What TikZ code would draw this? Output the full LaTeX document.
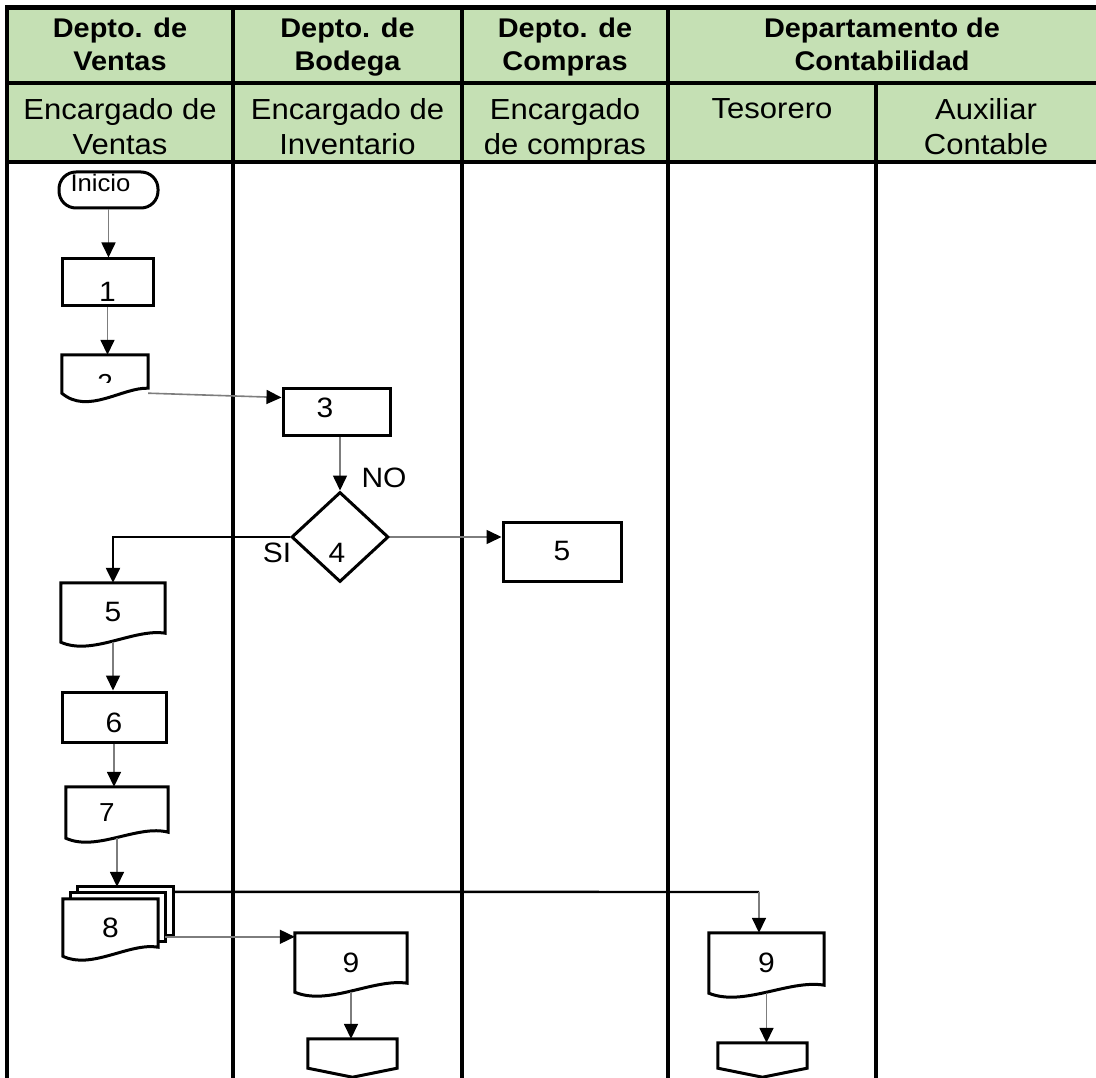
\documentclass[tikz,border=0pt]{standalone}
\usepackage{fontspec}
\setmainfont{Liberation Sans}[FakeStretch=1.07]
\usetikzlibrary{arrows.meta,calc,shapes.geometric}

\definecolor{hdrgreen}{RGB}{197,224,180}
\definecolor{flowgray}{RGB}{125,125,125}

\pgfdeclarelayer{table}
\pgfdeclarelayer{outline}
\pgfsetlayers{table,outline,main}

% document symbol: straight top and sides, wavy bottom edge
% #1 node, #2 rise of the right end, #3 dip amplitude, #4 rise amplitude
\newcommand\docoutline[4]{%
  \draw[shapeline] (#1.south west) -- (#1.north west) -- (#1.north east)
    -- ([yshift=#2pt]#1.south east)
    .. controls ($(#1.south west)!0.7!(#1.south east)+(0pt,#4pt)$)
       and ($(#1.south west)!0.3!(#1.south east)+(0pt,-#3pt)$) .. (#1.south west)
    -- cycle;}
% off-page connector: box with a pointed bottom
\newcommand\offpage[2]{%
  \draw[shapeline] (#1.south west) -- (#1.north west) -- (#1.north east)
    -- (#1.south east) -- ([yshift=-#2pt]#1.south) -- cycle;}

\begin{document}
\begin{tikzpicture}[x=1pt,y=-1pt,
  cellline/.style={line width=4.5pt, line cap=rect},
  shapeline/.style={draw=black, line width=3pt, fill=white, line join=miter},
  hdrtitle/.style={font=\bfseries\fontsize{27}{33}\selectfont, align=center, inner sep=0pt, anchor=north},
  hdrrole/.style={font=\fontsize{29}{35}\selectfont, align=center, inner sep=0pt, anchor=north},
  numfont/.style={font=\fontsize{28}{32}\selectfont},
  procbox/.style={rectangle, draw=black, line width=3pt, fill=white, inner sep=0pt, numfont},
  frame/.style={rectangle, draw=none, inner sep=0pt, numfont},
  terminal/.style={rectangle, rounded corners=17pt, draw=black, line width=3pt, fill=white, inner sep=0pt,
    font=\fontsize{24}{28}\selectfont},
  decision/.style={diamond, draw=black, line width=3pt, fill=white, inner sep=0pt},
  lbl/.style={inner sep=0pt, numfont},
  flow/.style={draw=flowgray, line width=1.6pt, -{Triangle[length=15pt,width=14pt,color=black]}},
  blackflow/.style={draw=black, line width=2.4pt, -{Triangle[length=15pt,width=14pt,color=black]}},
  blackline/.style={draw=black, line width=2.4pt}]

\useasboundingbox (0,0) rectangle (1096,1078);

% swimlane table
\begin{pgfonlayer}{table}
  \fill[hdrgreen] (7,7.5) rectangle (1096,162);
  \draw[cellline] (7,7.5) -- (1100,7.5);
  \draw[cellline] (7,83) -- (1100,83);
  \draw[cellline] (7,162) -- (1100,162);
  \draw[cellline] (7,7.5) -- (7,1080);
  \draw[cellline] (233,7.5) -- (233,1080);
  \draw[cellline] (462,7.5) -- (462,1080);
  \draw[cellline] (668,7.5) -- (668,1080);
  \draw[cellline] (876,83) -- (876,1080);
\end{pgfonlayer}

\node[hdrtitle] (hv) at (120,17.7) {Depto. de\\Ventas};
\node[hdrtitle] (hb) at (347.5,17.7) {Depto. de\\Bodega};
\node[hdrtitle] (hc) at (565,17.7) {Depto. de\\Compras};
\node[hdrtitle] (hk) at (882,17.7) {Departamento de\\Contabilidad};

\node[hdrrole] (rv) at (120,98) {Encargado de\\Ventas};
\node[hdrrole] (rb) at (347.5,98) {Encargado de\\Inventario};
\node[hdrrole] (rc) at (565,98) {Encargado\\de compras};
\node[hdrrole] (rt) at (772,98) {Tesorero};
\node[hdrrole] (ra) at (986,98) {Auxiliar\\Contable};

% flow symbols
\node[terminal, minimum width=99pt, minimum height=36pt, text height=4pt, text depth=0pt,
      text width=76pt, align=left] (ini) at (108.5,190) {Inicio};
\node[procbox, minimum width=91pt, minimum height=47pt, text height=39pt, text depth=0pt] (b1) at (107.5,282.5) {1};

\begin{scope}
  \clip (0,0) rectangle (1096,382);
  \node[frame, minimum width=86pt, minimum height=38pt, font=\fontsize{26}{30}\selectfont,
        text height=36pt, text depth=0pt] (d2) at (105,374) {2};
\end{scope}

\node[procbox, minimum width=107pt, minimum height=47pt, text height=11pt, text depth=0pt,
      text width=40pt, align=left] (b3) at (336.5,411.5) {3};
\node[decision, minimum width=97pt, minimum height=90pt] (d4) at (340,537) {};
\node[lbl] (t4) at (337,553) {4};
\node[lbl] (no) at (384,478) {NO};
\node[lbl] (si) at (277,553) {SI};
\node[procbox, minimum width=118pt, minimum height=59pt] (b5) at (562,551.5) {5};

\node[frame, minimum width=104pt, minimum height=59pt] (d5) at (113,612.5) {5};
\node[procbox, minimum width=104pt, minimum height=50pt, text height=30pt, text depth=0pt] (b6) at (114,717) {6};
\node[frame, minimum width=102pt, minimum height=51pt, font=\fontsize{26}{30}\selectfont,
      text width=36pt, align=left] (d7) at (117,812.5) {7};

\node[frame, minimum width=95pt, minimum height=48pt] (p8c) at (125.5,911) {};
\node[frame, minimum width=94pt, minimum height=48pt] (p8b) at (118,917) {};
\node[frame, minimum width=95pt, minimum height=57pt] (d8) at (110.5,927.5) {8};

\node[frame, minimum width=112pt, minimum height=59pt] (d9b) at (351,962.5) {9};
\node[frame, minimum width=115pt, minimum height=60pt] (d9t) at (766.5,963) {9};
\node[frame, minimum width=89pt, minimum height=29pt] (o1) at (352.5,1053.5) {};
\node[frame, minimum width=89pt, minimum height=25pt] (o2) at (762.5,1055.5) {};

\begin{pgfonlayer}{outline}
  \docoutline{d2}{5}{22}{6}
  \docoutline{d5}{9}{14}{14}
  \docoutline{d7}{6}{14}{14}
  \draw[shapeline] (p8c.north west) rectangle (p8c.south east);
  \draw[shapeline] (p8b.north west) rectangle (p8b.south east);
  \docoutline{d8}{9}{14}{14}
  \docoutline{d9b}{9}{14}{14}
  \docoutline{d9t}{8}{14}{14}
  \offpage{o1}{9}
  \offpage{o2}{9}
\end{pgfonlayer}

% connectors
\draw[flow] (ini.south) -- (ini.south |- b1.north);
\draw[flow] (b1.south) -- (b1.south |- d2.north);
\coordinate (in3) at ([yshift=-11pt]b3.north west);
\draw[flow] (d2.south east) -- (in3);
\draw[flow] (b3.south -| d4.north) -- (d4.north);
\draw[blackflow] (d4.west) -- (d4.west -| d5.north) -- (d5.north);
\draw[flow] (d4.east) -- (d4.east -| b5.west);
\draw[flow] (d5.south) -- (d5.south |- b6.north);
\draw[flow] (b6.south) -- (b6.south |- d7.north);
\draw[flow] (d7.south) -- (d7.south |- p8c.north);
\coordinate (k9) at (759,892);
\draw[blackline] ([yshift=-5pt]p8c.north east) -- (k9);
\draw[flow] (k9) -- (k9 |- d9t.north);
\coordinate (in9) at ([yshift=-4pt]d9b.north west);
\draw[flow] (p8b.east |- in9) -- (in9);
\draw[flow] (d9b.south) -- (d9b.south |- o1.north);
\draw[flow] (d9t.south) -- (d9t.south |- o2.north);

\end{tikzpicture}
\end{document}
